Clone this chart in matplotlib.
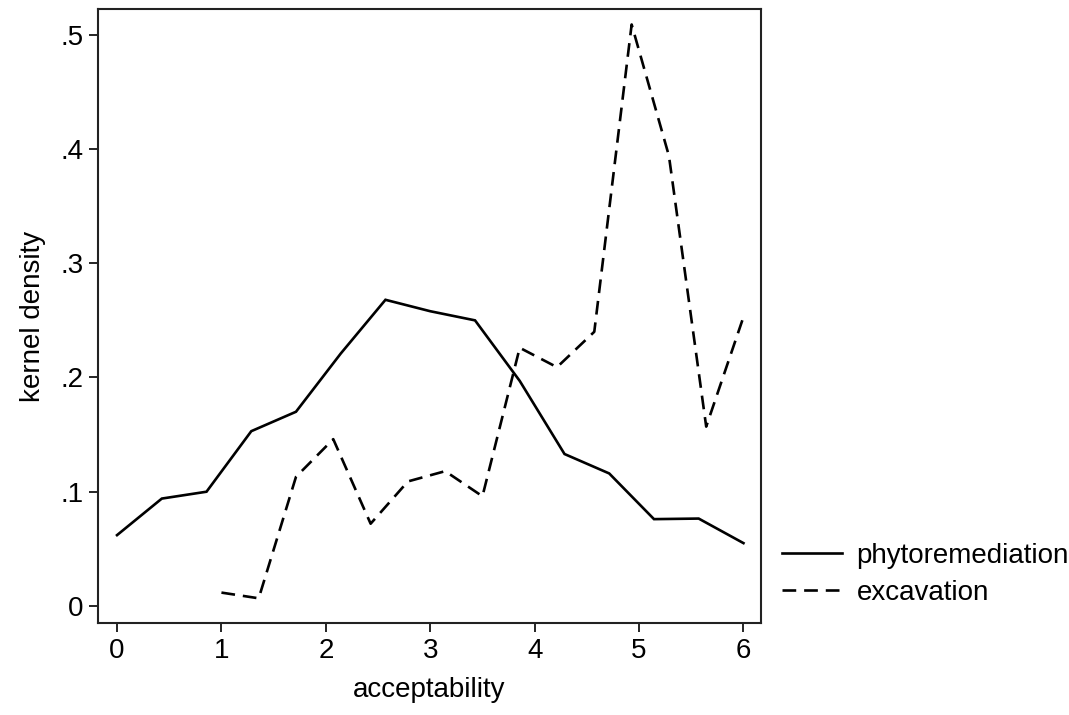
import numpy as np
import matplotlib.pyplot as plt
from matplotlib.lines import Line2D

# --- Data ---
phyto_x = [0.0, 0.429, 0.857, 1.286, 1.714, 2.143, 2.571, 3.0,
           3.429, 3.857, 4.286, 4.714, 5.143, 5.571, 6.0]
phyto_y = [0.062, 0.094, 0.100, 0.153, 0.170, 0.221, 0.268, 0.258,
           0.250, 0.197, 0.133, 0.116, 0.076, 0.0765, 0.055]

excav_x = [1.0, 1.357, 1.714, 2.071, 2.429, 2.786, 3.143, 3.5,
           3.857, 4.214, 4.571, 4.929, 5.286, 5.643, 6.0]
excav_y = [0.0117, 0.0067, 0.113, 0.146, 0.072, 0.109, 0.118, 0.096,
           0.226, 0.209, 0.240, 0.509, 0.394, 0.157, 0.253]

x_ticks = [0, 1, 2, 3, 4, 5, 6]
y_ticks = [0, 0.1, 0.2, 0.3, 0.4, 0.5]
y_tick_labels = ['0', '.1', '.2', '.3', '.4', '.5']

plt.rcParams['font.family'] = ['Liberation Sans', 'DejaVu Sans']

fig = plt.figure(figsize=(10.69, 7.15), dpi=100)
ax = fig.add_axes([0.0917, 0.1287, 0.7116 - 0.0917, 0.987 - 0.1287])

LW = 1.9
DASH = (0, (5.2, 3.0))
ax.plot(phyto_x, phyto_y, color='black', lw=LW, solid_joinstyle='miter')
ax.plot(excav_x, excav_y, color='black', lw=LW, linestyle=DASH)

ax.set_xlim(-0.182, 6.165)
ax.set_ylim(-0.0149, 0.5223)
ax.set_xticks(x_ticks)
ax.set_yticks(y_ticks)
ax.set_yticklabels(y_tick_labels)
ax.tick_params(direction='out', length=6.5, width=1.2, labelsize=20, pad=4,
               colors='black')
for s in ax.spines.values():
    s.set_linewidth(1.5)
    s.set_color('#222222')

ax.set_xlabel('acceptability', fontsize=20, labelpad=10)
ax.set_ylabel('kernel density', fontsize=20, labelpad=10)

handles = [Line2D([], [], color='black', lw=LW),
           Line2D([], [], color='black', lw=LW, linestyle=DASH)]
fig.legend(handles, ['phytoremediation', 'excavation'],
           loc='upper left', bbox_to_anchor=(0.7312, 0.2406),
           frameon=False, fontsize=20, handlelength=2.16,
           handletextpad=0.54, labelspacing=0.4,
           borderpad=0, borderaxespad=0)

fig.savefig('out.png', dpi=100)
